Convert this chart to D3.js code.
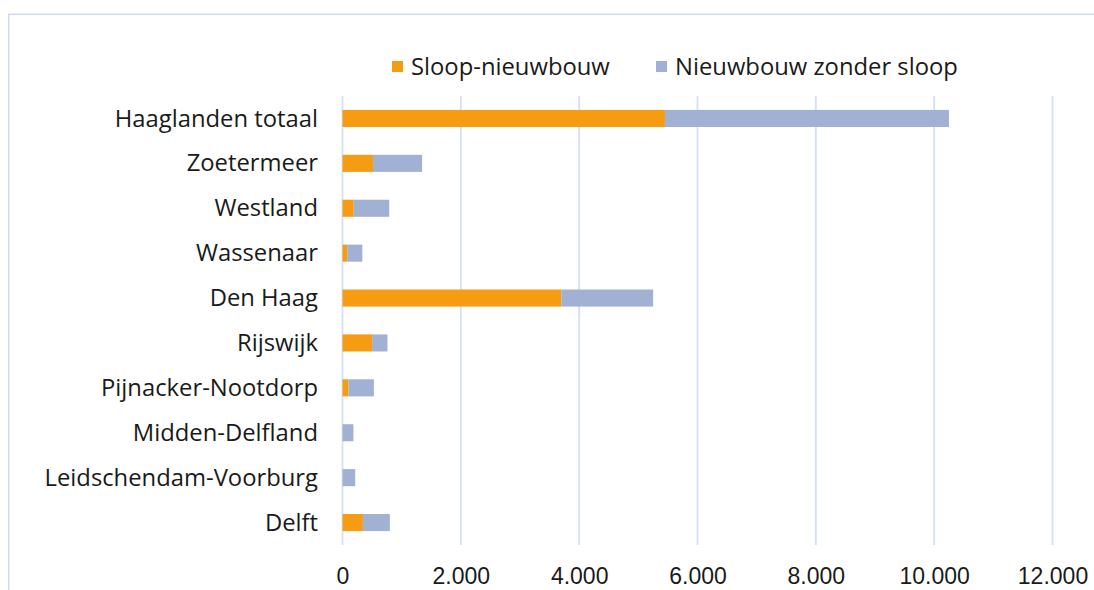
<!DOCTYPE html>
<html>
<head>
<meta charset="utf-8">
<script src="https://cdn.jsdelivr.net/npm/d3@7"></script>
<style>
  html, body { margin: 0; padding: 0; background: #fff; }
  svg { display: block; }
</style>
</head>
<body>
<svg id="chart" width="1094" height="590"></svg>
<script>
// Woningbouw per gemeente in Haaglanden
const categories = [
  "Haaglanden totaal", "Zoetermeer", "Westland", "Wassenaar", "Den Haag",
  "Rijswijk", "Pijnacker-Nootdorp", "Midden-Delfland", "Leidschendam-Voorburg", "Delft"
];
const sloopNieuwbouw   = [5450, 515, 190, 80, 3700, 500, 100, 0, 0, 345];
const zonderSloop      = [4800, 830, 600, 255, 1550, 260, 430, 185, 215, 455];
const seriesNames      = ["Sloop-nieuwbouw", "Nieuwbouw zonder sloop"];
const tickValues       = [0, 2000, 4000, 6000, 8000, 10000, 12000];

const colors = ["#F59C12", "#A1B1D3"];
const gridColor = "#D3DEF8";
const labelFont = "'Open Sans', 'Liberation Sans', sans-serif";
const tickFont = "'Liberation Sans', Arial, sans-serif";

const rows = categories.map((c, i) => ({
  name: c,
  [seriesNames[0]]: sloopNieuwbouw[i],
  [seriesNames[1]]: zonderSloop[i]
}));

const svg = d3.select("#chart");

// outer chart frame (top and left edges visible)
svg.append("path")
  .attr("d", "M8.75,600 V14.25 H1100")
  .attr("fill", "none")
  .attr("stroke", "#CCDAF8")
  .attr("stroke-width", 1.5);

const x = d3.scaleLinear().domain([0, 12000]).range([342.5, 1052.5]);
const y = d3.scaleBand().domain(categories).range([96, 545])
  .paddingInner(0.62).paddingOuter(0.31);

// vertical gridlines
svg.append("g")
  .selectAll("line")
  .data(tickValues)
  .join("line")
  .attr("x1", d => x(d)).attr("x2", d => x(d))
  .attr("y1", 96).attr("y2", 545)
  .attr("stroke", gridColor)
  .attr("stroke-width", 1.8);

// stacked bars
const stacked = d3.stack().keys(seriesNames)(rows);
svg.append("g")
  .selectAll("g")
  .data(stacked)
  .join("g")
  .attr("fill", (d, i) => colors[i])
  .selectAll("rect")
  .data(d => d)
  .join("rect")
  .attr("x", d => x(d[0]))
  .attr("y", d => y(d.data.name))
  .attr("width", d => Math.max(0, x(d[1]) - x(d[0])))
  .attr("height", y.bandwidth());

// x axis tick labels
const xAxis = d3.axisBottom(x)
  .tickValues(tickValues)
  .tickSize(0)
  .tickPadding(0)
  .tickFormat(d => d3.format(",")(d).replace(/,/g, "."));
const gx = svg.append("g")
  .attr("transform", "translate(0,568)")
  .call(xAxis);
gx.select(".domain").remove();
gx.selectAll("text")
  .attr("font-family", tickFont)
  .attr("font-size", 23)
  .attr("fill", "#1a1a1a");

// category axis labels
const yAxis = d3.axisLeft(y).tickSize(0).tickPadding(24.5);
const gy = svg.append("g")
  .attr("transform", "translate(342.5,0)")
  .call(yAxis);
gy.select(".domain").remove();
gy.selectAll("text")
  .attr("font-family", labelFont)
  .attr("font-size", 23.8)
  .attr("fill", "#1a1a1a")
  .attr("dy", "0.34em");

// legend
const legendX = [392, 656];
const legend = svg.append("g")
  .selectAll("g")
  .data(seriesNames)
  .join("g")
  .attr("transform", (d, i) => `translate(${legendX[i]},61)`);
legend.append("rect")
  .attr("width", 11).attr("height", 11)
  .attr("fill", (d, i) => colors[i]);
legend.append("text")
  .attr("x", 19).attr("y", 5.5).attr("dy", "0.36em")
  .attr("font-family", labelFont)
  .attr("font-size", 23.8)
  .attr("fill", "#1a1a1a")
  .text(d => d);
</script>
</body>
</html>
